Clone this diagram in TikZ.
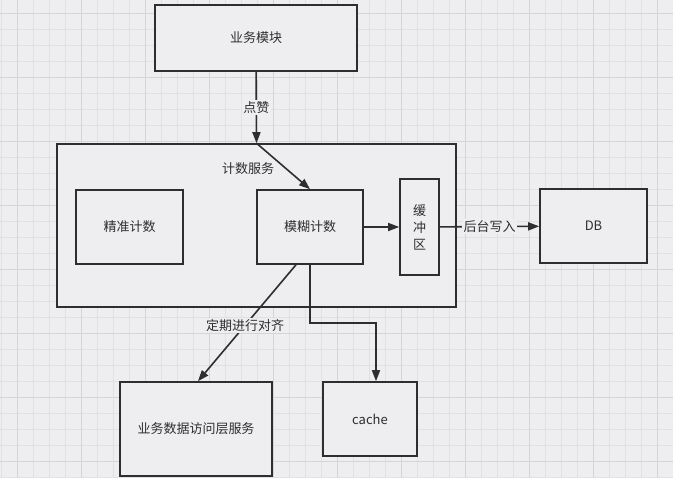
\documentclass[tikz,border=0pt]{standalone}
\usepackage{fontspec}
\setmainfont{Noto Sans CJK SC}
\usetikzlibrary{arrows.meta, positioning, calc}
\definecolor{bgGrey}{HTML}{EEEDF0}
\definecolor{gridMinor}{HTML}{E1E0E3}
\definecolor{gridMajor}{HTML}{D5D4D7}
\definecolor{inkDark}{HTML}{2E2E2E}

\begin{document}
\begin{tikzpicture}[
  x=1pt, y=-1pt,
  box/.style={draw=inkDark, fill=bgGrey, line width=1.6pt, align=center,
              font=\fontsize{13}{17}\selectfont, text=inkDark, inner sep=0pt},
  arr/.style={-{Triangle[length=11pt,width=8pt]}, line width=1.6pt, draw=inkDark},
  tag/.style={fill=bgGrey, inner sep=1.5pt, font=\fontsize{13}{17}\selectfont, text=inkDark}
]
  % background and grid
  \fill[bgGrey] (0,0) rectangle (673,478);
  \useasboundingbox (0,0) rectangle (673,478);
  \foreach \k in {0,...,42} {
    \draw[gridMinor, line width=0.8pt] ({1+16*\k},0) -- ({1+16*\k},478);
  }
  \foreach \k in {0,...,29} {
    \draw[gridMinor, line width=0.8pt] (0,{13+16*\k}) -- (673,{13+16*\k});
  }
  \foreach \k in {1,5,...,41} {
    \draw[gridMajor, line width=0.8pt] ({1+16*\k},0) -- ({1+16*\k},478);
  }
  \foreach \k in {0,4,...,28} {
    \draw[gridMajor, line width=0.8pt] (0,{13+16*\k}) -- (673,{13+16*\k});
  }

  % boxes
  \node[box, minimum width=202pt, minimum height=66pt] (biz) at (256,38) {业务模块};
  \node[box, minimum width=399pt, minimum height=163pt] (svc) at (256.5,225.5) {};
  \node[box, minimum width=107pt, minimum height=74pt] (exact) at (129.5,227) {精准计数};
  \node[box, minimum width=106pt, minimum height=74pt] (fuzzy) at (310,227) {模糊计数};
  \node[box, minimum width=39pt, minimum height=96pt,
        font=\fontsize{13}{17}\selectfont] (buf) at (419.5,227) {缓\\冲\\区};
  \node[box, minimum width=107pt, minimum height=74pt] (db) at (593.5,226) {DB};
  \node[box, minimum width=152pt, minimum height=94pt] (dal) at (196,429) {业务数据访问层服务};
  \node[box, minimum width=94pt, minimum height=74pt] (cache) at (370,419) {cache};
  \node[tag, fill=none] (svcname) at (248,169) {计数服务};

  % connectors
  \draw[arr] (biz) -- node[tag] (like) {点赞} (svc.north);
  \draw[arr] (svc.north) -- (fuzzy.north);
  \draw[arr] (fuzzy) -- (buf);
  \draw[arr] (buf) -- node[tag] (bgwrite) {后台写入} (db);
  \draw[arr] ($(fuzzy.south)+(-14,0)$) -- node[tag, pos=0.52] (align) {定期进行对齐}
    ($(dal.north)+(2,0)$);
  \coordinate (turn) at (376,323);
  \draw[arr] (fuzzy.south) |- (turn) -- (turn |- cache.north);
\end{tikzpicture}
\end{document}
